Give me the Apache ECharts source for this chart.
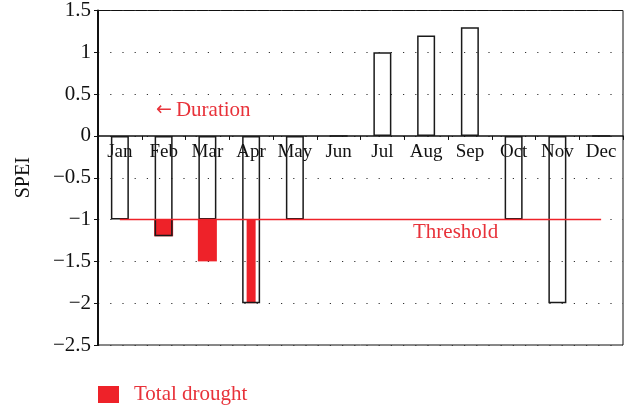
<!DOCTYPE html>
<html>
<head>
<meta charset="utf-8">
<script src="https://cdn.jsdelivr.net/npm/echarts@6/dist/echarts.min.js"></script>
<style>
  html, body { margin: 0; padding: 0; background: #fff; }
  #chart { width: 637px; height: 411px; }
</style>
</head>
<body>
<div id="chart"></div>
<script>
const months = ['Jan', 'Feb', 'Mar', 'Apr', 'May', 'Jun', 'Jul', 'Aug', 'Sep', 'Oct', 'Nov', 'Dec'];
// SPEI value per month (outlined bars)
const spei = [-1, -1.2, -1, -2, -1, 0, 1, 1.2, 1.3, -1, -2, 0];
// lowest SPEI reached during the drought spell (red part below threshold)
const droughtWide = [null, -1.2, -1.5, null, null, null, null, null, null, null, null, null];
const droughtNarrow = [null, null, null, -2, null, null, null, null, null, null, null, null];
const threshold = -1;
const thresholdLine = months.map(() => threshold);
const yMin = -2.5, yMax = 1.5, yStep = 0.5;

const RED = '#ee2229';
const TXT = '#e8323a';
const FONT = '"Liberation Serif", "DejaVu Serif", serif';

const baseOf = arr => arr.map(v => v == null ? null : threshold);
const deltaOf = arr => arr.map(v => v == null ? null : +(v - threshold).toFixed(2));

const chart = echarts.init(document.getElementById('chart'));

const hiddenX = () => ({
  type: 'category', data: months, gridIndex: 0, show: false,
  axisLine: {show: false, onZero: false}, axisTick: {show: false}, axisLabel: {show: false}
});

chart.setOption({
  animation: false,
  backgroundColor: '#fff',
  textStyle: {fontFamily: FONT},
  grid: {
    left: 98, right: 14, top: 9, bottom: 66,
    show: true, borderColor: '#111', borderWidth: 1
  },
  legend: {
    left: 98, top: 384, padding: 0,
    data: [{name: 'Total drought', icon: 'rect'}],
    itemWidth: 21, itemHeight: 17,
    textStyle: {color: TXT, fontSize: 21, fontFamily: FONT, padding: [0, 0, 0, 10]},
    selectedMode: false
  },
  xAxis: [
    {
      type: 'category', data: months, position: 'bottom', offset: 0,
      axisLine: {show: true, onZero: false, lineStyle: {color: '#111', width: 1.5}},
      axisTick: {show: true, length: 4, alignWithLabel: false, lineStyle: {color: '#111'}},
      axisLabel: {color: '#111', fontSize: 19, fontFamily: FONT, margin: 7, interval: 0},
      splitLine: {show: false}
    },
    hiddenX(),
    hiddenX()
  ],
  yAxis: {
    type: 'value', min: yMin, max: yMax, interval: yStep,
    name: 'SPEI', nameLocation: 'middle', nameGap: 64, nameRotate: 90,
    nameTextStyle: {color: '#111', fontSize: 20, fontFamily: FONT},
    axisLine: {show: true, onZero: false, lineStyle: {color: '#111', width: 2}},
    axisTick: {show: true, length: 4, lineStyle: {color: '#111'}},
    axisLabel: {
      color: '#111', fontSize: 21, fontFamily: FONT, margin: 7,
      formatter: v => String(v).replace('-', '\u2212')
    },
    splitLine: {show: true, lineStyle: {color: '#333', width: 1.2, type: [1.2, 11]}}
  },
  series: [
    {
      name: 'base', type: 'bar', xAxisIndex: 1, stack: 'wide', barWidth: 19,
      data: baseOf(droughtWide), itemStyle: {color: 'rgba(0,0,0,0)'}, z: 1, silent: true
    },
    {
      name: 'Total drought', type: 'bar', xAxisIndex: 1, stack: 'wide', barWidth: 19,
      data: deltaOf(droughtWide), itemStyle: {color: RED}, z: 2
    },
    {
      name: 'base2', type: 'bar', xAxisIndex: 2, stack: 'narrow', barWidth: 9,
      data: baseOf(droughtNarrow), itemStyle: {color: 'rgba(0,0,0,0)'}, z: 1, silent: true
    },
    {
      name: 'Total drought', type: 'bar', xAxisIndex: 2, stack: 'narrow', barWidth: 9,
      data: deltaOf(droughtNarrow), itemStyle: {color: RED}, z: 2
    },
    {
      name: 'SPEI', type: 'bar', xAxisIndex: 0, barWidth: 18,
      data: spei,
      itemStyle: {color: 'rgba(0,0,0,0)', borderColor: '#1a1a1a', borderWidth: 1.5},
      z: 3
    },
    {
      name: 'Threshold', type: 'line', xAxisIndex: 0,
      data: thresholdLine, showSymbol: false, symbol: 'none',
      lineStyle: {color: RED, width: 1.5}, z: 5
    }
  ],
  graphic: [
    {
      type: 'text', left: 156, top: 100,
      style: {
        text: '{a|\u2190}{b|Duration}',
        rich: {
          a: {fill: TXT, font: '19px "DejaVu Sans", sans-serif', padding: [0, 4, 0, 0]},
          b: {fill: TXT, font: '21px ' + FONT}
        }
      }
    },
    {
      type: 'text', left: 413, top: 222,
      style: {text: 'Threshold', fill: TXT, font: '21px ' + FONT}
    }
  ]
});

// move the month axis up to the zero line
const yZero = chart.convertToPixel({yAxisIndex: 0}, 0);
const yBottom = chart.convertToPixel({yAxisIndex: 0}, yMin);
chart.setOption({xAxis: [{offset: yZero - yBottom}]});
</script>
</body>
</html>
